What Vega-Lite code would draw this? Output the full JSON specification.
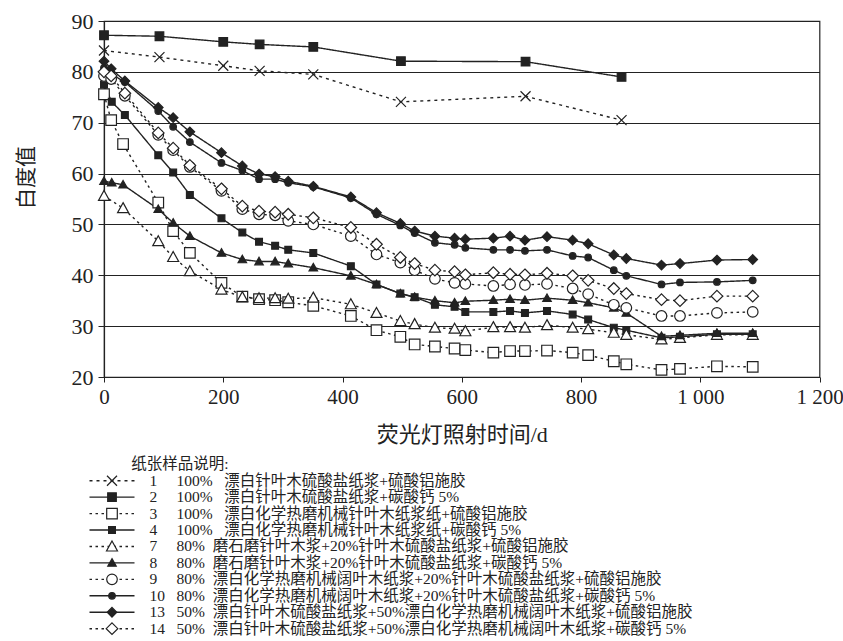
{
  "$schema": "https://vega.github.io/schema/vega-lite/v6.json",
  "background": "white",
  "padding": {"left": 14, "top": 9, "right": 0, "bottom": 0},
  "config": {
    "view": {"stroke": null},
    "font": "Liberation Serif, Noto Sans CJK SC",
    "title": {"font": "Liberation Serif, Noto Sans CJK SC"}
  },
  "spacing": 10.5,
  "resolve": {"scale": {"x": "independent", "y": "independent"}},
  "datasets": {
    "series": [
      {"s":"1","d":0,"v":84.2},{"s":"1","d":93,"v":82.9},{"s":"1","d":200,"v":81.2},{"s":"1","d":261,"v":80.2},{"s":"1","d":351,"v":79.5},{"s":"1","d":498,"v":74.1},{"s":"1","d":707,"v":75.2},{"s":"1","d":868,"v":70.5},
      {"s":"2","d":0,"v":87.2},{"s":"2","d":93,"v":87.0},{"s":"2","d":200,"v":85.9},{"s":"2","d":261,"v":85.4},{"s":"2","d":351,"v":84.9},{"s":"2","d":498,"v":82.1},{"s":"2","d":707,"v":82.0},{"s":"2","d":868,"v":79.0},
      {"s":"3","d":0,"v":75.6},{"s":"3","d":12,"v":70.5},{"s":"3","d":32,"v":65.8},{"s":"3","d":91,"v":54.3},{"s":"3","d":116,"v":48.7},{"s":"3","d":144,"v":44.4},{"s":"3","d":197,"v":38.5},{"s":"3","d":232,"v":35.8},{"s":"3","d":260,"v":35.3},{"s":"3","d":287,"v":35.1},{"s":"3","d":309,"v":34.7},{"s":"3","d":351,"v":34.0},{"s":"3","d":414,"v":32.0},{"s":"3","d":457,"v":29.2},{"s":"3","d":497,"v":27.9},{"s":"3","d":521,"v":26.4},{"s":"3","d":555,"v":26.0},{"s":"3","d":588,"v":25.6},{"s":"3","d":606,"v":25.3},{"s":"3","d":653,"v":24.8},{"s":"3","d":681,"v":25.1},{"s":"3","d":706,"v":25.1},{"s":"3","d":743,"v":25.2},{"s":"3","d":786,"v":24.8},{"s":"3","d":812,"v":24.3},{"s":"3","d":855,"v":23.1},{"s":"3","d":876,"v":22.5},{"s":"3","d":935,"v":21.4},{"s":"3","d":966,"v":21.6},{"s":"3","d":1028,"v":22.1},{"s":"3","d":1088,"v":22.0},
      {"s":"4","d":0,"v":77.5},{"s":"4","d":13,"v":74.1},{"s":"4","d":35,"v":71.5},{"s":"4","d":91,"v":63.6},{"s":"4","d":116,"v":60.2},{"s":"4","d":144,"v":55.8},{"s":"4","d":197,"v":51.2},{"s":"4","d":232,"v":48.4},{"s":"4","d":260,"v":46.6},{"s":"4","d":287,"v":45.8},{"s":"4","d":309,"v":45.0},{"s":"4","d":351,"v":44.4},{"s":"4","d":414,"v":41.8},{"s":"4","d":457,"v":38.2},{"s":"4","d":497,"v":36.4},{"s":"4","d":521,"v":35.7},{"s":"4","d":555,"v":34.2},{"s":"4","d":588,"v":33.8},{"s":"4","d":606,"v":32.8},{"s":"4","d":653,"v":32.8},{"s":"4","d":681,"v":33.0},{"s":"4","d":706,"v":32.6},{"s":"4","d":743,"v":33.0},{"s":"4","d":786,"v":32.3},{"s":"4","d":812,"v":31.3},{"s":"4","d":855,"v":29.7},{"s":"4","d":876,"v":29.2},{"s":"4","d":935,"v":27.7},{"s":"4","d":966,"v":27.9},{"s":"4","d":1028,"v":28.4},{"s":"4","d":1088,"v":28.4},
      {"s":"7","d":0,"v":55.6},{"s":"7","d":32,"v":53.2},{"s":"7","d":91,"v":46.7},{"s":"7","d":116,"v":43.6},{"s":"7","d":144,"v":40.8},{"s":"7","d":197,"v":37.2},{"s":"7","d":232,"v":35.7},{"s":"7","d":260,"v":35.5},{"s":"7","d":287,"v":35.5},{"s":"7","d":309,"v":35.4},{"s":"7","d":351,"v":35.6},{"s":"7","d":414,"v":34.3},{"s":"7","d":457,"v":32.6},{"s":"7","d":497,"v":31.0},{"s":"7","d":521,"v":30.4},{"s":"7","d":555,"v":29.7},{"s":"7","d":588,"v":29.5},{"s":"7","d":606,"v":29.0},{"s":"7","d":653,"v":29.8},{"s":"7","d":681,"v":29.8},{"s":"7","d":706,"v":29.7},{"s":"7","d":743,"v":30.2},{"s":"7","d":786,"v":29.7},{"s":"7","d":812,"v":29.4},{"s":"7","d":855,"v":28.7},{"s":"7","d":876,"v":28.3},{"s":"7","d":935,"v":27.4},{"s":"7","d":966,"v":27.7},{"s":"7","d":1028,"v":28.3},{"s":"7","d":1088,"v":28.3},
      {"s":"8","d":0,"v":58.5},{"s":"8","d":13,"v":58.2},{"s":"8","d":32,"v":57.8},{"s":"8","d":91,"v":53.0},{"s":"8","d":116,"v":50.3},{"s":"8","d":144,"v":47.7},{"s":"8","d":197,"v":44.4},{"s":"8","d":232,"v":43.1},{"s":"8","d":260,"v":42.7},{"s":"8","d":287,"v":42.7},{"s":"8","d":309,"v":42.3},{"s":"8","d":351,"v":41.5},{"s":"8","d":414,"v":39.9},{"s":"8","d":457,"v":38.2},{"s":"8","d":497,"v":36.4},{"s":"8","d":521,"v":35.7},{"s":"8","d":555,"v":35.0},{"s":"8","d":588,"v":34.6},{"s":"8","d":606,"v":34.9},{"s":"8","d":653,"v":35.1},{"s":"8","d":681,"v":35.3},{"s":"8","d":706,"v":35.1},{"s":"8","d":743,"v":35.5},{"s":"8","d":786,"v":35.1},{"s":"8","d":812,"v":34.6},{"s":"8","d":855,"v":33.6},{"s":"8","d":876,"v":32.6},{"s":"8","d":935,"v":28.0},{"s":"8","d":966,"v":28.2},{"s":"8","d":1028,"v":28.6},{"s":"8","d":1088,"v":28.6},
      {"s":"9","d":0,"v":79.2},{"s":"9","d":12,"v":78.6},{"s":"9","d":35,"v":75.3},{"s":"9","d":91,"v":67.6},{"s":"9","d":116,"v":64.6},{"s":"9","d":144,"v":61.3},{"s":"9","d":197,"v":56.6},{"s":"9","d":232,"v":53.0},{"s":"9","d":260,"v":52.0},{"s":"9","d":287,"v":51.8},{"s":"9","d":309,"v":50.7},{"s":"9","d":351,"v":50.0},{"s":"9","d":414,"v":47.7},{"s":"9","d":457,"v":44.1},{"s":"9","d":497,"v":42.5},{"s":"9","d":521,"v":41.0},{"s":"9","d":555,"v":39.3},{"s":"9","d":588,"v":38.5},{"s":"9","d":606,"v":38.3},{"s":"9","d":653,"v":37.9},{"s":"9","d":681,"v":38.2},{"s":"9","d":706,"v":38.1},{"s":"9","d":743,"v":38.3},{"s":"9","d":786,"v":37.4},{"s":"9","d":812,"v":36.3},{"s":"9","d":855,"v":34.2},{"s":"9","d":876,"v":33.6},{"s":"9","d":935,"v":32.0},{"s":"9","d":966,"v":32.0},{"s":"9","d":1028,"v":32.6},{"s":"9","d":1088,"v":32.8},
      {"s":"10","d":0,"v":80.8},{"s":"10","d":12,"v":79.6},{"s":"10","d":35,"v":78.0},{"s":"10","d":91,"v":72.3},{"s":"10","d":116,"v":69.2},{"s":"10","d":144,"v":66.2},{"s":"10","d":197,"v":62.1},{"s":"10","d":232,"v":60.6},{"s":"10","d":260,"v":58.9},{"s":"10","d":287,"v":58.9},{"s":"10","d":309,"v":58.2},{"s":"10","d":351,"v":57.4},{"s":"10","d":414,"v":55.2},{"s":"10","d":457,"v":52.0},{"s":"10","d":497,"v":49.8},{"s":"10","d":521,"v":48.3},{"s":"10","d":555,"v":46.4},{"s":"10","d":588,"v":46.0},{"s":"10","d":606,"v":45.4},{"s":"10","d":653,"v":45.0},{"s":"10","d":681,"v":45.0},{"s":"10","d":706,"v":44.8},{"s":"10","d":743,"v":45.0},{"s":"10","d":786,"v":43.8},{"s":"10","d":812,"v":43.5},{"s":"10","d":855,"v":41.0},{"s":"10","d":876,"v":39.9},{"s":"10","d":935,"v":38.2},{"s":"10","d":966,"v":38.6},{"s":"10","d":1028,"v":38.7},{"s":"10","d":1088,"v":39.0},
      {"s":"13","d":0,"v":82.1},{"s":"13","d":12,"v":80.6},{"s":"13","d":35,"v":78.2},{"s":"13","d":91,"v":73.0},{"s":"13","d":116,"v":71.0},{"s":"13","d":144,"v":68.2},{"s":"13","d":197,"v":64.1},{"s":"13","d":232,"v":61.5},{"s":"13","d":260,"v":59.9},{"s":"13","d":287,"v":59.4},{"s":"13","d":309,"v":58.5},{"s":"13","d":351,"v":57.5},{"s":"13","d":414,"v":55.4},{"s":"13","d":457,"v":52.3},{"s":"13","d":497,"v":50.2},{"s":"13","d":521,"v":48.7},{"s":"13","d":555,"v":47.7},{"s":"13","d":588,"v":47.3},{"s":"13","d":606,"v":47.1},{"s":"13","d":653,"v":47.3},{"s":"13","d":681,"v":47.7},{"s":"13","d":706,"v":46.9},{"s":"13","d":743,"v":47.6},{"s":"13","d":786,"v":46.9},{"s":"13","d":812,"v":46.2},{"s":"13","d":855,"v":44.0},{"s":"13","d":876,"v":43.3},{"s":"13","d":935,"v":42.0},{"s":"13","d":966,"v":42.3},{"s":"13","d":1028,"v":43.0},{"s":"13","d":1088,"v":43.1},
      {"s":"14","d":0,"v":80.0},{"s":"14","d":12,"v":79.2},{"s":"14","d":35,"v":75.8},{"s":"14","d":91,"v":68.0},{"s":"14","d":116,"v":65.0},{"s":"14","d":144,"v":61.6},{"s":"14","d":197,"v":57.0},{"s":"14","d":232,"v":53.6},{"s":"14","d":260,"v":52.6},{"s":"14","d":287,"v":52.4},{"s":"14","d":309,"v":52.0},{"s":"14","d":351,"v":51.3},{"s":"14","d":414,"v":49.4},{"s":"14","d":457,"v":46.1},{"s":"14","d":497,"v":43.5},{"s":"14","d":521,"v":42.3},{"s":"14","d":555,"v":41.0},{"s":"14","d":588,"v":40.7},{"s":"14","d":606,"v":40.1},{"s":"14","d":653,"v":40.5},{"s":"14","d":681,"v":40.2},{"s":"14","d":706,"v":40.1},{"s":"14","d":743,"v":40.4},{"s":"14","d":786,"v":39.9},{"s":"14","d":812,"v":39.0},{"s":"14","d":855,"v":37.4},{"s":"14","d":876,"v":36.4},{"s":"14","d":935,"v":35.2},{"s":"14","d":966,"v":35.0},{"s":"14","d":1028,"v":35.9},{"s":"14","d":1088,"v":35.9}
    ],
    "legend": [
      {"s":"1","label":"100%\u00a0\u00a0\u00a0漂白针叶木硫酸盐纸浆+硫酸铝施胶"},
      {"s":"2","label":"100%\u00a0\u00a0\u00a0漂白针叶木硫酸盐纸浆+碳酸钙 5%"},
      {"s":"3","label":"100%\u00a0\u00a0\u00a0漂白化学热磨机械针叶木纸浆纸+硫酸铝施胶"},
      {"s":"4","label":"100%\u00a0\u00a0\u00a0漂白化学热磨机械针叶木纸浆纸+碳酸钙 5%"},
      {"s":"7","label":"80%\u00a0\u00a0磨石磨针叶木浆+20%针叶木硫酸盐纸浆+硫酸铝施胶"},
      {"s":"8","label":"80%\u00a0\u00a0磨石磨针叶木浆+20%针叶木硫酸盐纸浆+碳酸钙 5%"},
      {"s":"9","label":"80%\u00a0\u00a0漂白化学热磨机械阔叶木纸浆+20%针叶木硫酸盐纸浆+硫酸铝施胶"},
      {"s":"10","label":"80%\u00a0\u00a0漂白化学热磨机械阔叶木纸浆+20%针叶木硫酸盐纸浆+碳酸钙 5%"},
      {"s":"13","label":"50%\u00a0\u00a0漂白针叶木硫酸盐纸浆+50%漂白化学热磨机械阔叶木纸浆+硫酸铝施胶"},
      {"s":"14","label":"50%\u00a0\u00a0漂白针叶木硫酸盐纸浆+50%漂白化学热磨机械阔叶木纸浆+碳酸钙 5%"}
    ]
  },
  "vconcat": [
    {
      "width": 715.5,
      "height": 356,
      "view": {"stroke": "#222", "strokeWidth": 1.2},
      "data": {"name": "series"},
      "encoding": {
        "x": {"field": "d", "type": "quantitative", "scale": {"domain": [0, 1200], "nice": false, "zero": false},
          "axis": {"values": [0, 200, 400, 600, 800, 1000, 1200],
            "labelExpr": "datum.value >= 1000 ? replace(format(datum.value, ','), ',', ' ') : format(datum.value, 'd')",
            "title": "荧光灯照射时间/d", "grid": false, "tickSize": 5, "tickColor": "#222", "domainColor": "#222", "domainWidth": 1.2,
            "labelFontSize": 21, "labelColor": "#222", "labelPadding": 4, "labelFlush": false,
            "titleFontSize": 22, "titleFontWeight": "normal", "titleColor": "#222", "titlePadding": 17}},
        "y": {"field": "v", "type": "quantitative", "scale": {"domain": [20, 90], "nice": false, "zero": false},
          "axis": {"values": [20, 30, 40, 50, 60, 70, 80, 90], "title": "白度值", "grid": true, "gridColor": "#222", "gridWidth": 1.2, "gridOpacity": 1,
            "tickSize": 6, "tickColor": "#222", "domainColor": "#222", "domainWidth": 1.2,
            "labelFontSize": 22, "labelColor": "#222", "labelPadding": 5,
            "titleFontSize": 21, "titleFontWeight": "normal", "titleColor": "#222", "titlePadding": 34.5, "titleY": 156}}
      },
      "layer": [
        {
          "mark": {"type": "line", "color": "#222", "strokeWidth": 1.4},
          "encoding": {
            "detail": {"field": "s", "type": "nominal"},
            "strokeDash": {"field": "s", "type": "nominal", "legend": null,
              "scale": {"domain": ["1","2","3","4","7","8","9","10","13","14"],
                "range": [[3,4],[1,0],[2.5,3.5],[1,0],[2.5,3.5],[1,0],[2.5,3.5],[1,0],[1,0],[2.5,3.5]]}}
          }
        },
        {
          "mark": {"type": "point", "filled": true, "stroke": "#222", "strokeWidth": 1.2, "opacity": 1, "size": 100},
          "encoding": {
            "shape": {"field": "s", "type": "nominal", "legend": null,
              "scale": {"domain": ["1","2","3","4","7","8","9","10","13","14"],
                "range": ["M-1,-1L1,1M-1,1L1,-1", "M-0.86,-0.86H0.86V0.86H-0.86Z", "M-1.06,-1.06H1.06V1.06H-1.06Z", "M-0.68,-0.68H0.68V0.68H-0.68Z",
                  "M0,-1.1L1.1,0.9L-1.1,0.9Z", "M0,-0.85L0.85,0.65L-0.85,0.65Z",
                  "M1.06,0A1.06,1.06,0,1,1,-1.06,0A1.06,1.06,0,1,1,1.06,0Z", "M0.66,0A0.66,0.66,0,1,1,-0.66,0A0.66,0.66,0,1,1,0.66,0Z",
                  "M0,-0.96L0.96,0L0,0.96L-0.96,0Z", "M0,-1.16L1.16,0L0,1.16L-1.16,0Z"]}},
            "fill": {"field": "s", "type": "nominal", "legend": null,
              "scale": {"domain": ["1","2","3","4","7","8","9","10","13","14"],
                "range": ["white","#222","white","#222","white","#222","white","#222","#222","white"]}}
          }
        }
      ]
    },
    {
      "width": 600,
      "height": 164.4,
      "title": {"text": "纸张样品说明:", "anchor": "start", "dx": 42.5, "fontSize": 15.5, "fontWeight": "normal", "color": "#222", "offset": 0},
      "data": {"name": "legend"},
      "encoding": {
        "y": {"field": "s", "type": "ordinal", "sort": ["1","2","3","4","7","8","9","10","13","14"], "scale": {"type": "point", "padding": 0.5}, "axis": null}
      },
      "layer": [
        {
          "mark": {"type": "rule", "color": "#222", "strokeWidth": 1.4},
          "encoding": {
            "x": {"datum": -14.5, "type": "quantitative", "scale": {"domain": [0, 600], "nice": false, "zero": false}, "axis": null},
            "x2": {"datum": 30.5},
            "strokeDash": {"field": "s", "type": "nominal", "legend": null,
              "scale": {"domain": ["1","2","3","4","7","8","9","10","13","14"],
                "range": [[3,4],[1,0],[2.5,3.5],[1,0],[2.5,3.5],[1,0],[2.5,3.5],[1,0],[1,0],[2.5,3.5]]}}
          }
        },
        {
          "mark": {"type": "point", "filled": true, "stroke": "#222", "strokeWidth": 1.2, "opacity": 1, "size": 100},
          "encoding": {
            "x": {"datum": 8, "type": "quantitative"},
            "shape": {"field": "s", "type": "nominal", "legend": null,
              "scale": {"domain": ["1","2","3","4","7","8","9","10","13","14"],
                "range": ["M-1,-1L1,1M-1,1L1,-1", "M-0.86,-0.86H0.86V0.86H-0.86Z", "M-1.06,-1.06H1.06V1.06H-1.06Z", "M-0.68,-0.68H0.68V0.68H-0.68Z",
                  "M0,-1.1L1.1,0.9L-1.1,0.9Z", "M0,-0.85L0.85,0.65L-0.85,0.65Z",
                  "M1.06,0A1.06,1.06,0,1,1,-1.06,0A1.06,1.06,0,1,1,1.06,0Z", "M0.66,0A0.66,0.66,0,1,1,-0.66,0A0.66,0.66,0,1,1,0.66,0Z",
                  "M0,-0.96L0.96,0L0,0.96L-0.96,0Z", "M0,-1.16L1.16,0L0,1.16L-1.16,0Z"]}},
            "fill": {"field": "s", "type": "nominal", "legend": null,
              "scale": {"domain": ["1","2","3","4","7","8","9","10","13","14"],
                "range": ["white","#222","white","#222","white","#222","white","#222","#222","white"]}}
          }
        },
        {
          "mark": {"type": "text", "align": "left", "baseline": "middle", "fontSize": 15.5, "color": "#222"},
          "encoding": {"x": {"datum": 45.5, "type": "quantitative"}, "text": {"field": "s"}}
        },
        {
          "mark": {"type": "text", "align": "left", "baseline": "middle", "fontSize": 15.5, "color": "#222"},
          "encoding": {"x": {"datum": 72.5, "type": "quantitative"}, "text": {"field": "label"}}
        }
      ]
    }
  ]
}
